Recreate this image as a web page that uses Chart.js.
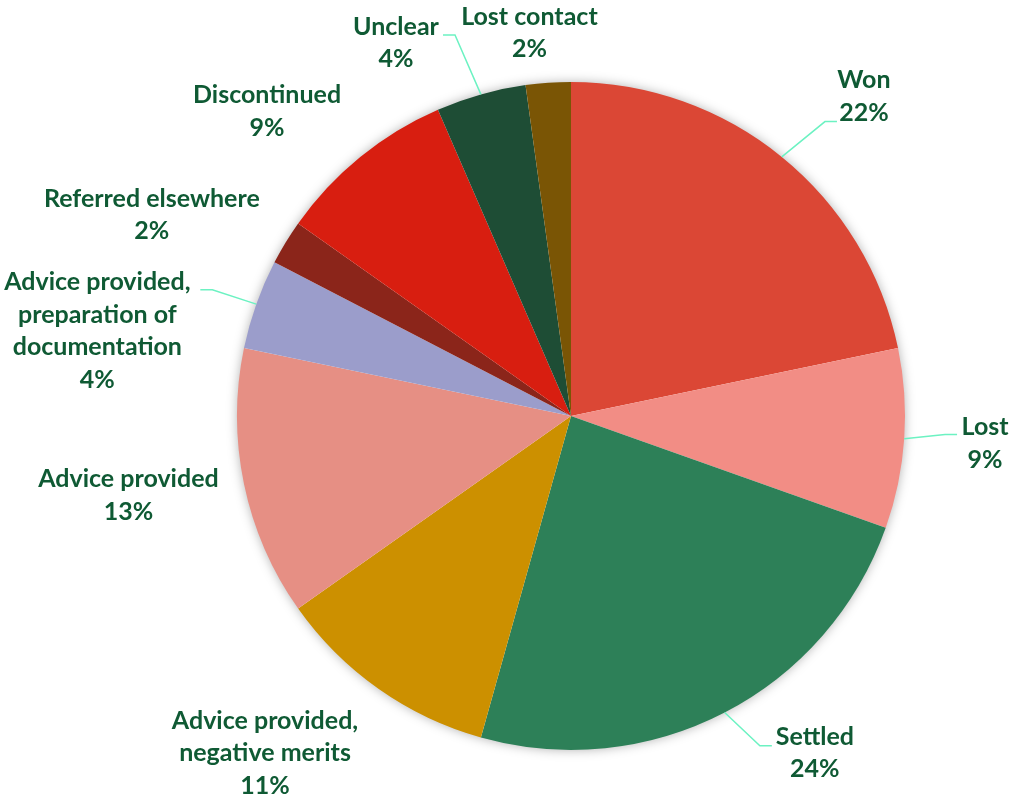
<!DOCTYPE html>
<html>
<head>
<meta charset="utf-8">
<title>Case outcomes</title>
<script src="https://cdn.jsdelivr.net/npm/chart.js@4"></script>
<style>
    body { margin: 0; background: #ffffff; }
    #outcomes { display: block; }
</style>
</head>
<body>
<canvas id="outcomes" width="1010" height="798"></canvas>
<script>
// number of cases per outcome
const outcomeLabels = [
    ['Won'],
    ['Lost'],
    ['Settled'],
    ['Advice provided,', 'negative merits'],
    ['Advice provided'],
    ['Advice provided,', 'preparation of', 'documentation'],
    ['Referred elsewhere'],
    ['Discontinued'],
    ['Unclear'],
    ['Lost contact']
]
const outcomeCounts = [10, 4, 11, 5, 6, 2, 1, 4, 2, 1]
const outcomeColors = ['#db4735', '#f28d85', '#2d8058', '#cc9000', '#e68f84',
                       '#9b9dcb', '#8b251a', '#d81e10', '#1e4d35', '#7a5505']

// label placement: shift from the default spot outside each slice
const labelNudge = [[38, -6], [11, 0], [58, -22], [-73, 7], [-47, -3],
                    [-93, 50], [-74, 9], [-49, 9], [-66, 16], [-14, 20]]
// leader line end, relative to the label centre (null = no leader)
const leaderEnd = [[-27, 25], [-28, -9], [-43, -7], null, null,
                   [103, -41], null, null, [47, -8], null]

const LABEL_COLOR = '#0f5a34'
const LEADER_COLOR = '#6cf2c2'
const LINE_HEIGHT = 32.5

// soft shadow round the outside of the pie only
const pieShadow = {
    id: 'pieShadow',
    beforeDatasetsDraw(chart) {
        const arc = chart.getDatasetMeta(0).data[0]
        if (!arc) return
        const ctx = chart.ctx
        ctx.save()
        ctx.shadowColor = 'rgba(0, 0, 0, 0.35)'
        ctx.shadowBlur = 12
        ctx.fillStyle = '#ffffff'
        ctx.beginPath()
        ctx.arc(arc.x, arc.y, arc.outerRadius - 1, 0, Math.PI * 2)
        ctx.fill()
        ctx.restore()
    }
}

// outside labels with leader lines
const outsideLabels = {
    id: 'outsideLabels',
    afterDraw(chart) {
        const ctx = chart.ctx
        const arcs = chart.getDatasetMeta(0).data
        const total = outcomeCounts.reduce((a, b) => a + b, 0)
        ctx.save()
        ctx.font = 'bold 25px Lato'
        ctx.textAlign = 'center'
        ctx.textBaseline = 'middle'
        arcs.forEach((arc, i) => {
            const mid = (arc.startAngle + arc.endAngle) / 2
            const r = arc.outerRadius
            const cx = arc.x + Math.cos(mid) * (r + 70) + labelNudge[i][0]
            const cy = arc.y + Math.sin(mid) * (r + 70) + labelNudge[i][1]

            if (leaderEnd[i]) {
                const ex = cx + leaderEnd[i][0]
                const ey = cy + leaderEnd[i][1]
                const sx = arc.x + Math.cos(mid) * r
                const sy = arc.y + Math.sin(mid) * r
                const elbow = sx < ex ? ex - 12 : ex + 12
                ctx.strokeStyle = LEADER_COLOR
                ctx.lineWidth = 1.5
                ctx.beginPath()
                ctx.moveTo(sx, sy)
                ctx.lineTo(elbow, ey)
                ctx.lineTo(ex, ey)
                ctx.stroke()
            }

            const pct = Math.round(outcomeCounts[i] / total * 100) + '%'
            const lines = outcomeLabels[i].concat([pct])
            const top = cy - (lines.length - 1) * LINE_HEIGHT / 2
            ctx.fillStyle = LABEL_COLOR
            lines.forEach((txt, k) => {
                ctx.fillText(txt, cx, top + k * LINE_HEIGHT)
            })
        })
        ctx.restore()
    }
}

const ctx = document.getElementById('outcomes').getContext('2d')
new Chart(ctx, {
    type: 'pie',
    data: {
        labels: outcomeLabels.map(l => l.join(' ')),
        datasets: [{
            data: outcomeCounts,
            backgroundColor: outcomeColors,
            borderWidth: 0
        }]
    },
    options: {
        responsive: false,
        animation: false,
        layout: {
            padding: { left: 237, right: 105, top: 82, bottom: 48 }
        },
        plugins: {
            legend: { display: false },
            tooltip: { enabled: false }
        }
    },
    plugins: [pieShadow, outsideLabels]
})
</script>
</body>
</html>
